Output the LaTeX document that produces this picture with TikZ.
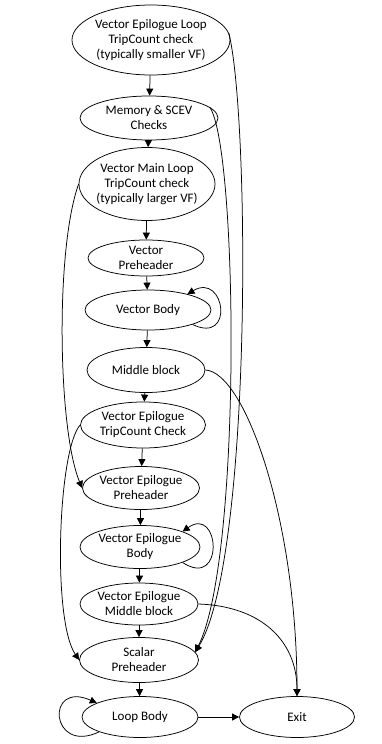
\documentclass[tikz,border=0pt]{standalone}
\usepackage{fontspec}
\setmainfont{Carlito}
\usetikzlibrary{arrows.meta,shapes.geometric}

\tikzset{
  blk/.style={draw,ellipse,line width=.75pt,inner xsep=-13pt,inner ysep=-1pt,
    align=center,font=\fontsize{13}{15}\selectfont},
  arr/.style={-{Triangle[length=7pt,width=7pt]},line width=.75pt}
}

\begin{document}
\begin{tikzpicture}[x=1pt,y=-1pt]
\useasboundingbox[fill=white] (0,0) rectangle (381,744);
% blocks, top to bottom
\node[blk,minimum width=158pt,minimum height=70pt] (epiloopchk) at (151,40)
  {Vector Epilogue Loop\\TripCount check\\(typically smaller VF)};
\node[blk,minimum width=138pt,minimum height=44pt] (memchk) at (149,118)
  {Memory \& SCEV\\Checks};
\node[blk,minimum width=136pt,minimum height=73pt] (mainchk) at (147,184)
  {Vector Main Loop\\TripCount check\\(typically larger VF)};
\node[blk,minimum width=116pt,minimum height=36pt] (vecph) at (146,258)
  {Vector\\Preheader};
\node[blk,minimum width=126pt,minimum height=40pt] (vecbody) at (148,310)
  {Vector Body};
\node[blk,minimum width=118pt,minimum height=45pt] (midblk) at (146,370)
  {Middle block};
\node[blk,minimum width=125pt,minimum height=46pt] (epichk) at (143,425)
  {Vector Epilogue\\TripCount Check};
\node[blk,minimum width=117pt,minimum height=43pt] (epiph) at (141,488)
  {Vector Epilogue\\Preheader};
\node[blk,minimum width=120pt,minimum height=43pt] (epibody) at (140,547)
  {Vector Epilogue\\Body};
\node[blk,minimum width=118pt,minimum height=42pt] (epimid) at (139,604)
  {Vector Epilogue\\Middle block};
\node[blk,minimum width=119pt,minimum height=45pt] (scalarph) at (139,660)
  {Scalar\\Preheader};
\node[blk,minimum width=116pt,minimum height=41pt] (loopbody) at (140,717)
  {Loop Body};
\node[blk,minimum width=115pt,minimum height=41pt] (exitblk) at (297,717)
  {Exit};

% straight chain
\foreach \a/\b in {epiloopchk/memchk,memchk/mainchk,mainchk/vecph,vecph/vecbody,
  vecbody/midblk,midblk/epichk,epichk/epiph,epiph/epibody,epibody/epimid,
  epimid/scalarph,scalarph/loopbody,loopbody/exitblk}
  \draw[arr] (\a) -- (\b);

% self loops
\draw[arr] (vecbody.-18) .. controls (235,345) and (225,272) .. (vecbody.22);
\draw[arr] (epibody.-20) .. controls (225,590) and (220,505) .. (epibody.20);
\draw[arr] (loopbody.200) .. controls (50,755) and (45,680) .. (loopbody.162);

% bypass edges, right side
\draw[arr] (epiloopchk.5) .. controls (250,120) and (252,560) .. (scalarph.8);
\draw[arr] (memchk.10) .. controls (238,150) and (242,560) .. (scalarph.8);
\draw[arr] (midblk.east) .. controls (245,372) and (297,520) .. (exitblk.north);
\draw[arr] (epimid.east) .. controls (260,606) and (297,640) .. (exitblk.north);

% bypass edges, left side
\draw[arr] (mainchk.west) .. controls (55,250) and (58,430) .. (epiph.west);
\draw[arr] (epichk.west) .. controls (58,450) and (52,620) .. (scalarph.west);
\end{tikzpicture}
\end{document}
